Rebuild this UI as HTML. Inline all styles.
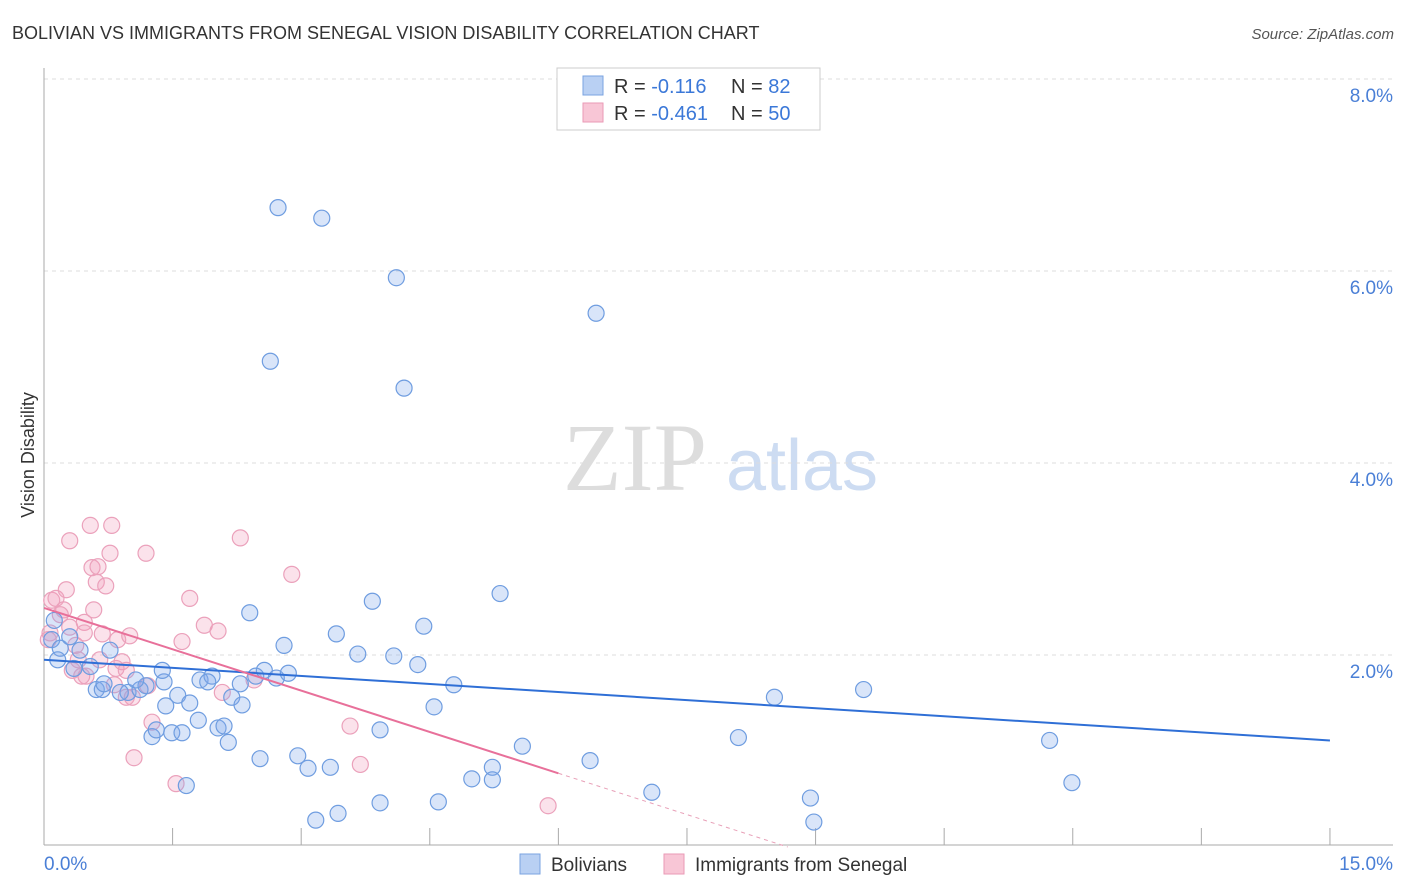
<!DOCTYPE html>
<html><head><meta charset="utf-8">
<style>
body{margin:0;background:#fff;font-family:"Liberation Sans",sans-serif;}
#c{position:absolute;left:0;top:0;width:1406px;height:892px;overflow:hidden;}
</style></head>
<body>
<div id="c">
<svg id="svg" width="1406" height="892" xmlns="http://www.w3.org/2000/svg">
<text x="12" y="39" font-size="18" fill="#333">BOLIVIAN VS IMMIGRANTS FROM SENEGAL VISION DISABILITY CORRELATION CHART</text>
<text x="1394" y="39" font-size="15" fill="#555" font-style="italic" text-anchor="end">Source: ZipAtlas.com</text>
<text x="34" y="455" font-size="18" fill="#333" text-anchor="middle" transform="rotate(-90 34 455)">Vision Disability</text>
<g>
<text x="635" y="490" font-size="96" fill="#ddd" font-family="Liberation Serif,serif" text-anchor="middle">ZIP</text>
<text x="802" y="490" font-size="72" fill="#cddcf2" text-anchor="middle">atlas</text>
</g>
<g id="grid"></g>
<g id="axes"></g>
<g id="pts"></g>
<g id="trend"></g>
<g>
<rect x="557" y="68" width="263" height="62" fill="#fff" stroke="#ccc"/>
<rect x="583" y="76" width="20" height="19" fill="#b9d0f3" stroke="#7aa3e0"/>
<text x="614" y="93" font-size="20" fill="#333">R = <tspan fill="#3b78d8">-0.116</tspan></text>
<text x="731" y="93" font-size="20" fill="#333">N = <tspan fill="#3b78d8">82</tspan></text>
<rect x="583" y="103" width="20" height="19" fill="#f8c6d6" stroke="#ea9ab6"/>
<text x="614" y="120" font-size="20" fill="#333">R = <tspan fill="#3b78d8">-0.461</tspan></text>
<text x="731" y="120" font-size="20" fill="#333">N = <tspan fill="#3b78d8">50</tspan></text>
</g>
<g>
<rect x="520" y="854" width="20" height="20" fill="#b9d0f3" stroke="#7aa3e0"/>
<text x="551" y="871" font-size="19" fill="#333">Bolivians</text>
<rect x="664" y="854" width="20" height="20" fill="#f8c6d6" stroke="#ea9ab6"/>
<text x="695" y="871" font-size="19" fill="#333">Immigrants from Senegal</text>
</g>
</svg>
</div>
<script>
const yTicks=[2,4,6,8];
const yTickLabels=["2.0%","4.0%","6.0%","8.0%"];
const xTickCount=10;
const xEndLabels=["0.0%","15.0%"];
const blueX=[2.73,3.24,4.11,6.44,2.64,4.20,5.32,3.83,2.40,4.43,3.41,2.80,3.66,4.08,4.36,0.09,0.19,0.30,0.42,0.16,0.35,0.54,0.77,0.12,0.61,0.68,0.98,1.12,0.89,0.70,1.19,1.07,1.40,1.38,1.56,1.70,1.42,1.26,1.31,1.49,1.61,1.80,1.82,1.96,1.91,2.03,2.10,2.15,2.19,2.31,2.29,2.47,2.57,2.71,2.85,2.52,2.96,3.08,3.34,3.17,3.43,3.92,3.92,4.78,4.55,4.60,4.99,5.23,5.23,5.58,6.37,7.09,8.10,8.52,9.56,8.94,8.98,11.73,11.99,1.66];
const blueY=[6.66,6.55,5.93,5.56,5.06,4.78,2.64,2.56,2.44,2.30,2.22,2.10,2.01,1.99,1.90,2.16,2.07,2.19,2.05,1.95,1.86,1.88,2.05,2.36,1.64,1.64,1.61,1.64,1.61,1.70,1.68,1.74,1.72,1.84,1.58,1.50,1.47,1.15,1.22,1.19,1.19,1.32,1.74,1.78,1.72,1.24,1.26,1.09,1.56,1.48,1.70,1.78,1.84,1.76,1.81,0.92,0.95,0.82,0.83,0.28,0.35,1.22,0.46,1.69,1.46,0.47,0.71,0.83,0.70,1.05,0.90,0.57,1.14,1.56,1.64,0.51,0.26,1.11,0.67,0.64];
const pinkX=[0.09,0.14,0.26,0.23,0.19,0.07,0.05,0.30,0.37,0.47,0.56,0.61,0.63,0.72,0.54,0.30,0.77,0.79,1.19,0.58,0.47,0.68,0.86,1.00,0.40,0.33,0.49,0.84,0.91,0.96,0.82,1.21,1.03,1.70,1.61,1.87,2.03,2.29,2.89,2.08,2.45,1.26,1.05,1.54,3.57,3.69,5.88,0.44,0.96,0.65];
const pinkY=[2.57,2.59,2.68,2.47,2.42,2.23,2.16,2.29,2.10,2.34,2.91,2.76,2.92,2.72,3.35,3.19,3.06,3.35,3.06,2.47,2.23,2.22,2.16,2.20,1.95,1.84,1.78,1.86,1.93,1.84,1.69,1.68,1.56,2.59,2.14,2.31,2.25,3.22,2.84,1.61,1.74,1.30,0.93,0.66,1.26,0.86,0.43,1.78,1.56,1.95];
const blueTrend=[1.95,1.11];
const pinkTrend=[2.49,-0.287];

const NS="http://www.w3.org/2000/svg";
const X=v=>44+v*85.73, Y=v=>847-v*96;
function mk(tag,attrs,parent){const e=document.createElementNS(NS,tag);for(const k in attrs)e.setAttribute(k,attrs[k]);document.getElementById(parent).appendChild(e);return e;}
yTicks.forEach((t,i)=>{
 const l=mk('line',{x1:44,x2:1393,y1:Y(t),y2:Y(t),stroke:'#ddd','stroke-dasharray':'4 4'},'grid');
 
 
 const tx=mk('text',{x:1393,y:Y(t)+23,'font-size':19,fill:'#4a7fd6','text-anchor':'end'},'grid');
 tx.textContent=yTickLabels[i];
 
 
});
const ax=mk('line',{x1:44,x2:1393,y1:845,y2:845,stroke:'#aaa'},'axes');


const ay=mk('line',{x1:44,x2:44,y1:68,y2:845,stroke:'#aaa'},'axes');


for(let i=0;i<=xTickCount;i++){
 const v=i*1.5;
 const t=mk('line',{x1:X(v),x2:X(v),y1:828,y2:845,stroke:'#aaa'},'axes');
 
 
}
const xl0=mk('text',{x:44,y:870,'font-size':19,fill:'#4a7fd6'},'axes');xl0.textContent=xEndLabels[0];


const xl1=mk('text',{x:1393,y:870,'font-size':19,fill:'#4a7fd6','text-anchor':'end'},'axes');xl1.textContent=xEndLabels[1];


pinkX.forEach((x,i)=>{
 const c=mk('circle',{cx:X(x),cy:Y(pinkY[i]),r:8,fill:'rgba(243,160,188,0.3)',stroke:'#eba1bb','stroke-width':1.2},'pts');
 
 
});
blueX.forEach((x,i)=>{
 const c=mk('circle',{cx:X(x),cy:Y(blueY[i]),r:8,fill:'rgba(130,170,235,0.3)',stroke:'#6f9de0','stroke-width':1.2},'pts');
 
 
});
const bl=mk('line',{x1:X(0),y1:Y(blueTrend[0]),x2:X(15),y2:Y(blueTrend[1]),stroke:'#2f6fd6','stroke-width':2},'trend');


const pEnd=6.0, pZero=-pinkTrend[0]/pinkTrend[1];
const pl=mk('line',{x1:X(0),y1:Y(pinkTrend[0]),x2:X(pEnd),y2:Y(pinkTrend[0]+pinkTrend[1]*pEnd),stroke:'#e8709a','stroke-width':2},'trend');


const pd=mk('line',{x1:X(pEnd),y1:Y(pinkTrend[0]+pinkTrend[1]*pEnd),x2:X(pZero),y2:Y(0),stroke:'#e8a0b8','stroke-width':1,'stroke-dasharray':'4 4'},'trend');


</script>
</body></html>
